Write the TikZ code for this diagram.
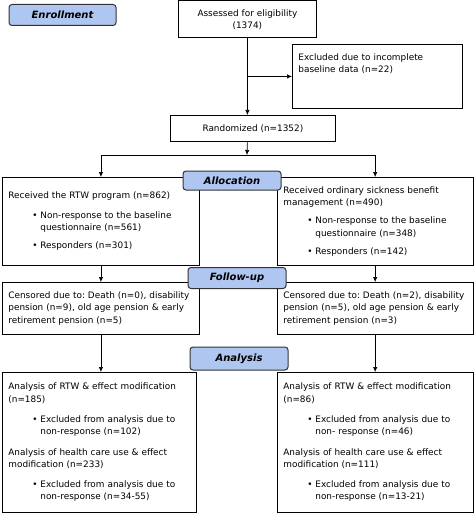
\documentclass[tikz,border=0pt]{standalone}
\usepackage{fontspec}
\setmainfont{DejaVu Sans}
\usetikzlibrary{arrows.meta}
\definecolor{stageblue}{HTML}{AFC6F0}
\newcommand{\bul}{\hspace*{24pt}\makebox[8pt][l]{\textbullet}}
\newcommand{\bulind}{\hspace*{32pt}}
\frenchspacing

\begin{document}
\begin{tikzpicture}[x=1pt,y=-1pt,
	box/.style={draw, line width=0.8pt, anchor=north west, align=left, inner xsep=6pt, inner ysep=0pt, font=\fontsize{8.9}{12.3}\selectfont},
	stage/.style={draw=black!80, line width=1pt, rounded corners=3pt, fill=stageblue, font=\fontsize{10}{11}\selectfont\bfseries\itshape, minimum width=98pt, minimum height=21pt, inner sep=0pt},
	arr/.style={-{Latex[length=5pt,width=4.5pt]}, line width=0.7pt}]
	\useasboundingbox (0,0) rectangle (473,513);
	\node[box, align=center, text width=126pt, minimum height=37pt] (assess) at (178,0.5) {Assessed for eligibility\\(1374)};
	\node[box, text width=158pt, text height=16pt, text depth=48pt] (excl) at (292,44) {Excluded due to incomplete\\baseline data (n=22)};
	\node[box, align=center, text width=153pt, minimum height=26pt] (rand) at (170,115) {Randomized (n=1352)};
	\node[box, text width=185pt, minimum height=88pt] (rtw) at (2,177) {Received the RTW program (n=862)\\[7pt]
		\bul Non-response to the baseline\\
		\bulind questionnaire (n=561)\\[6pt]
		\bul Responders (n=301)};
	\node[box, text width=183.5pt, minimum height=88pt] (osb) at (277,177) {Received ordinary sickness benefit\\
		management (n=490)\\[6pt]
		\bul Non-response to the baseline\\
		\bulind questionnaire (n=348)\\[6pt]
		\bul Responders (n=142)};
	\node[box, text width=185pt, minimum height=52pt] (censrtw) at (2,282) {Censored due to: Death (n=0), disability\\pension (n=9), old age pension \& early\\retirement pension (n=5)};
	\node[box, text width=183.5pt, minimum height=52pt] (censosb) at (277,282) {Censored due to: Death (n=2), disability\\pension (n=5), old age pension \& early\\retirement pension (n=3)};
	\node[box, text width=182pt, minimum height=140pt] (anartw) at (2,372) {Analysis of RTW \& effect modification\\
		(n=185)\\[8pt]
		\bul Excluded from analysis due to\\
		\bulind non-response (n=102)\\[8pt]
		Analysis of health care use \& effect\\
		modification (n=233)\\[8pt]
		\bul Excluded from analysis due to\\
		\bulind non-response (n=34-55)};
	\node[box, text width=183.5pt, minimum height=140pt] (anaosb) at (277,372) {Analysis of RTW \& effect modification\\
		(n=86)\\[8pt]
		\bul Excluded from analysis due to\\
		\bulind non- response (n=46)\\[8pt]
		Analysis of health care use \& effect\\
		modification (n=111)\\[8pt]
		\bul Excluded from analysis due to\\
		\bulind non-response (n=13-21)};
	\coordinate (split) at (247,155);
	\draw[arr] (assess.south) -- (assess.south |- rand.north);
	\draw[arr] (assess.south |- excl.west) -- (excl.west);
	\draw[arr] (assess.south |- rand.south) -- (split);
	\draw (rtw.north |- split) -- (osb.north |- split);
	\draw[arr] (rtw.north |- split) -- (rtw.north);
	\draw[arr] (osb.north |- split) -- (osb.north);
	\draw[arr] (rtw.south) -- (censrtw.north);
	\draw[arr] (osb.south) -- (censosb.north);
	\draw[arr] (censrtw.south) -- (censrtw.south |- anartw.north);
	\draw[arr] (censosb.south) -- (censosb.south |- anaosb.north);
	\node[stage, minimum width=107pt] (enrollment) at (62.5,15) {Enrollment};
	\node[stage, minimum height=19pt] (allocation) at (232,180.5) {Allocation};
	\node[stage] (followup) at (237,278) {Follow-up};
	\node[stage, minimum height=23pt] (analysis) at (239,358.5) {Analysis};
\end{tikzpicture}
\end{document}
